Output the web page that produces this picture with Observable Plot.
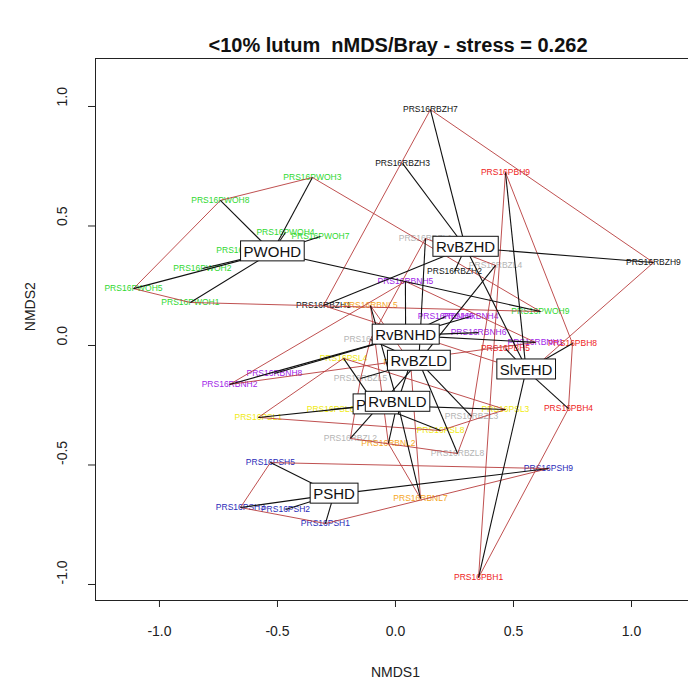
<!DOCTYPE html>
<html><head><meta charset="utf-8">
<script src="https://cdn.jsdelivr.net/npm/d3@7"></script>
<script src="https://cdn.jsdelivr.net/npm/@observablehq/plot@0.6"></script>
<style>
body{margin:0;background:#fff;font-family:Arial,"Liberation Sans",sans-serif;}
#title{width:688px;height:52px;box-sizing:border-box;padding-top:35px;padding-left:108px;line-height:20px;font-size:20px;font-weight:bold;text-align:center;white-space:pre;color:#111;}
#chart svg{display:block;}
</style></head><body>
<div id="title">&lt;10% lutum  nMDS/Bray - stress = 0.262</div>
<div id="chart"></div>
<script>
// ---- data ----
const groupNames  = ["PWOHD","RvBZHD","SlvEHD","PSHD","RvBNHD","RvBZLD","PSLD","RvBNLD"];
const groupColors = ["#2fd82f","#111111","#ee1c1c","#2a2ab8","#a126e8","#b4b4b4","#f0ea10","#f5a623"];

const sampleIds = [
  "PRS16PWOH8","PRS16PWOH3","PRS16PWOH4","PRS16PWOH7","PRS16PWOH6","PRS16PWOH2","PRS16PWOH5","PRS16PWOH1","PRS16PWOH9",
  "PRS16RBZH7","PRS16RBZH3","PRS16RBZH9","PRS16RBZH1","PRS16RBZH5","PRS16RBZH2",
  "PRS16PBH9","PRS16PBH8","PRS16PBH5","PRS16PBH4","PRS16PBH1",
  "PRS16RBNH5","PRS16RBNH9","PRS16RBNH4","PRS16RBNH6","PRS16RBNH1","PRS16RBNH2","PRS16RBNH8",
  "PRS16RBZL1","PRS16RBZL4","PRS16RBZL6","PRS16RBZL5","PRS16RBZL3","PRS16RBZL8","PRS16RBZL2",
  "PRS16PSL4","PRS16PSL1","PRS16PSL6","PRS16PSL3","PRS16PSL8",
  "PRS16RBNL5","PRS16RBNL7","PRS16RBNL2","PRS16RBNL9",
  "PRS16PSH5","PRS16PSH3","PRS16PSH2","PRS16PSH1","PRS16PSH9"
];
const sampleGroups = [
  "PWOHD","PWOHD","PWOHD","PWOHD","PWOHD","PWOHD","PWOHD","PWOHD","PWOHD",
  "RvBZHD","RvBZHD","RvBZHD","RvBZHD","RvBZHD","RvBZHD",
  "SlvEHD","SlvEHD","SlvEHD","SlvEHD","SlvEHD",
  "RvBNHD","RvBNHD","RvBNHD","RvBNHD","RvBNHD","RvBNHD","RvBNHD",
  "RvBZLD","RvBZLD","RvBZLD","RvBZLD","RvBZLD","RvBZLD","RvBZLD",
  "PSLD","PSLD","PSLD","PSLD","PSLD",
  "RvBNLD","RvBNLD","RvBNLD","RvBNLD",
  "PSHD","PSHD","PSHD","PSHD","PSHD"
];
const nmds1 = [
  -0.742,-0.352,-0.466,-0.318,-0.636,-0.818,-1.110,-0.869,0.614,
  0.148,0.030,1.093,-0.305,0.564,0.250,
  0.466,0.750,0.466,0.733,0.352,
  0.042,0.212,0.318,0.352,0.593,-0.703,-0.513,
  0.127,0.424,-0.106,-0.148,0.322,0.263,-0.191,
  -0.220,-0.581,-0.275,0.466,0.191,
  -0.106,0.106,-0.030,0.064,
  -0.530,-0.657,-0.466,-0.297,0.648
];
const nmds2 = [
  0.607,0.703,0.473,0.456,0.397,0.322,0.238,0.180,0.142,
  0.987,0.762,0.347,0.167,-0.113,0.310,
  0.724,0.008,-0.013,-0.264,-0.971,
  0.268,0.121,0.121,0.054,0.013,-0.163,-0.117,
  0.448,0.335,0.025,-0.138,-0.297,-0.452,-0.389,
  -0.054,-0.301,-0.268,-0.268,-0.356,
  0.167,-0.640,-0.410,-0.071,
  -0.490,-0.678,-0.686,-0.745,-0.515
];
const tickValues = [-1.0,-0.5,0.0,0.5,1.0];
const xTitle = "NMDS1", yTitle = "NMDS2";

// ---- derived tables ----
const samples = sampleIds.map((id,i)=>({id, group:sampleGroups[i], x:nmds1[i], y:nmds2[i]}));
const colorOf = g => groupColors[groupNames.indexOf(g)];
const centroids = groupNames.map(g=>{
  const s = samples.filter(d=>d.group===g);
  return {group:g, x:d3.mean(s,d=>d.x), y:d3.mean(s,d=>d.y)};
});
const cMap = new Map(centroids.map(c=>[c.group,c]));
const spiders = samples.map(d=>({group:d.group, cx:cMap.get(d.group).x, cy:cMap.get(d.group).y, x:d.x, y:d.y}));
const hulls = [];
groupNames.forEach(g=>{
  const pts = samples.filter(d=>d.group===g).map(d=>[d.x,d.y]);
  const h = pts.length>2 ? d3.polygonHull(pts) : pts;
  h.concat([h[0]]).forEach(p=>hulls.push({group:g, x:p[0], y:p[1]}));
});

const xDom = [-1.271, 1.2415], yDom = [-1.067, 1.2008];
const font = "Arial, 'Liberation Sans', sans-serif";

const chart = Plot.plot({
  width: 688, height: 629,
  marginTop: 6, marginBottom: 81, marginLeft: 95, marginRight: 0,
  x: {domain: xDom, axis: null},
  y: {domain: yDom, axis: null},
  style: {fontFamily: font, background: "white", overflow: "visible"},
  marks: [
    Plot.text(samples, {x:"x", y:"y", text:"id", fill:d=>colorOf(d.group), fontSize:8.5}),
    Plot.line(hulls, {x:"x", y:"y", z:"group", stroke:"#b83c3c", strokeWidth:0.9, curve:"linear"}),
    Plot.link(spiders, {x1:"cx", y1:"cy", x2:"x", y2:"y", stroke:"#111", strokeWidth:1.1}),
    Plot.text(centroids, {x:"x", y:"y", text:"group", fontSize:15, fill:"#111"}),
    Plot.ruleY([yDom[1], yDom[0]], {stroke:"#222", strokeWidth:1}),
    Plot.ruleX([xDom[0]], {stroke:"#222", strokeWidth:1}),
    Plot.axisX({ticks:tickValues, tickSize:7, tickFormat:()=>"", anchor:"bottom", stroke:"#222"}),
    Plot.axisY({ticks:tickValues, tickSize:7, tickFormat:()=>"", anchor:"left", stroke:"#222"}),
    Plot.text(tickValues, {x:d=>d, frameAnchor:"bottom", dy:35, text:d=>d.toFixed(1), fontSize:14, fill:"#222"}),
    Plot.text(tickValues, {y:d=>d, frameAnchor:"left", dx:-33, rotate:-90, text:d=>d.toFixed(1), fontSize:14, fill:"#222"}),
    Plot.text([{t:xTitle, x:0}], {x:"x", frameAnchor:"bottom", dy:76, text:"t", fontSize:14, fill:"#222"}),
    Plot.text([{t:yTitle, y:0.06}], {y:"y", frameAnchor:"left", dx:-65, rotate:-90, text:"t", fontSize:14, fill:"#222"})
  ]
});
document.getElementById("chart").appendChild(chart);

// white boxes with black border behind each group label
const NS = "http://www.w3.org/2000/svg";
Array.from(chart.querySelectorAll("text")).forEach(t=>{
  if (!groupNames.includes(t.textContent.trim())) return;
  let b;
  try { b = t.getBBox(); } catch(e) { return; }
  const r = document.createElementNS(NS,"rect");
  r.setAttribute("x", b.x-3); r.setAttribute("width", b.width+6);
  r.setAttribute("y", b.y + b.height/2 - 10.5); r.setAttribute("height", 20);
  r.setAttribute("fill","#ffffff"); r.setAttribute("stroke","#111111"); r.setAttribute("stroke-width","1");
  r.style.fill = "#ffffff"; r.style.stroke = "#111111";
  const tr = t.getAttribute("transform"); if (tr) r.setAttribute("transform", tr);
  t.parentNode.insertBefore(r, t);
});
</script>
</body></html>
